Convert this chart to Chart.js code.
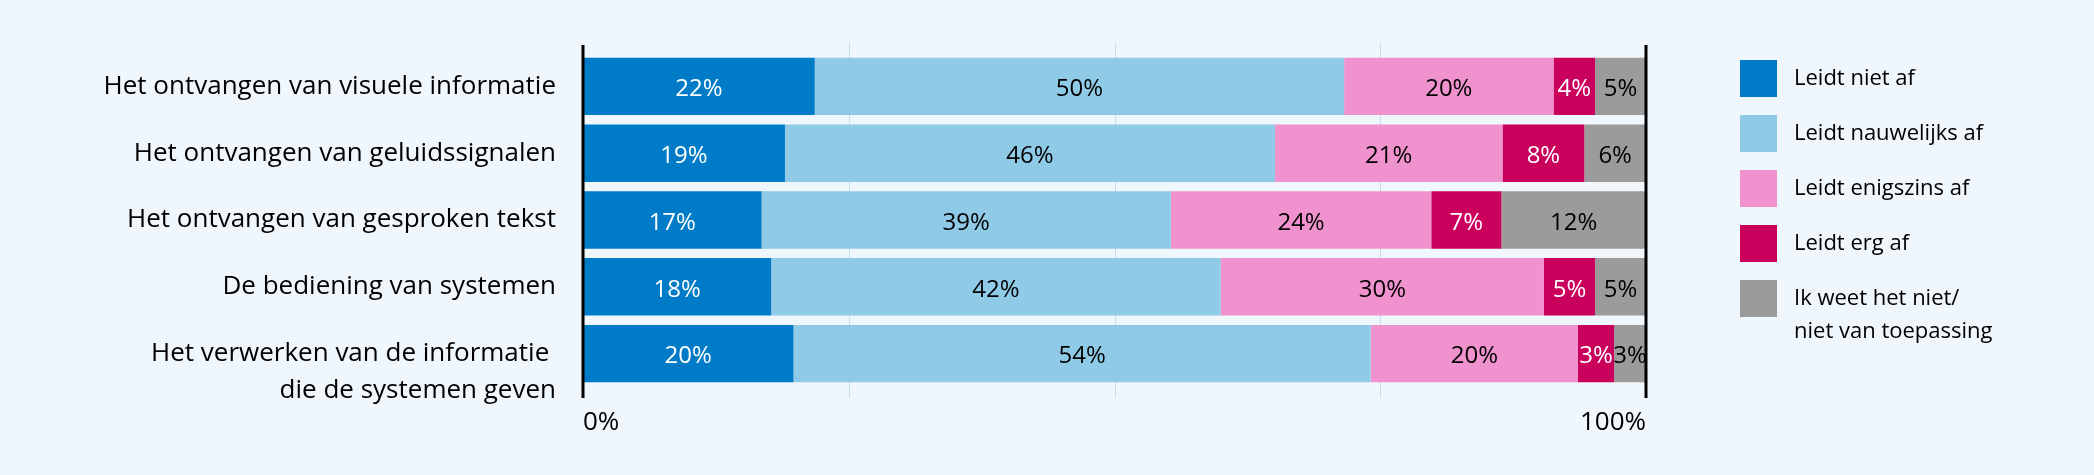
<!DOCTYPE html>
<html lang="nl">
<head>
  <meta charset="UTF-8">
  <title>Afleiding door systemen</title>
  <script src="https://cdn.jsdelivr.net/npm/chart.js"></script>
  <style>
    html, body { margin: 0; padding: 0; background: #eff6fc; }
    #grafiek { position: relative; width: 2094px; height: 475px; }
  </style>
</head>
<body>
  <div id="grafiek"><canvas id="canvas"></canvas></div>

  <script>
    const categorieen = [
      'Het ontvangen van visuele informatie',
      'Het ontvangen van geluidssignalen',
      'Het ontvangen van gesproken tekst',
      'De bediening van systemen',
      'Het verwerken van de informatie \ndie de systemen geven'
    ];

    const reeksen = [
      'Leidt niet af',
      'Leidt nauwelijks af',
      'Leidt enigszins af',
      'Leidt erg af',
      'Ik weet het niet/\nniet van toepassing'
    ];

    // lengte van de balkdelen zoals getekend (in %)
    const leidtNietAf        = [21.8, 19.0, 16.8, 17.7, 19.8];
    const leidtNauwelijksAf  = [49.8, 46.1, 38.5, 42.3, 54.3];
    const leidtEnigszinsAf   = [19.7, 21.4, 24.5, 30.4, 19.5];
    const leidtErgAf         = [3.9, 7.7, 6.6, 4.8, 3.4];
    const weetNiet           = [4.8, 5.8, 13.6, 4.8, 3.0];

    // afgedrukte percentages in de balken
    const pctNietAf        = [22, 19, 17, 18, 20];
    const pctNauwelijksAf  = [50, 46, 39, 42, 54];
    const pctEnigszinsAf   = [20, 21, 24, 30, 20];
    const pctErgAf         = [4, 8, 7, 5, 3];
    const pctWeetNiet      = [5, 6, 12, 5, 3];

    const xTickLabels = ['0%', '', '', '', '100%'];

    const waarden = [leidtNietAf, leidtNauwelijksAf, leidtEnigszinsAf, leidtErgAf, weetNiet];
    const percentages = [pctNietAf, pctNauwelijksAf, pctEnigszinsAf, pctErgAf, pctWeetNiet];
    const kleuren = ['#007bc7', '#8fcae7', '#f092cd', '#ca005d', '#9b9b9b'];
    const tekstKleuren = ['#ffffff', '#000000', '#000000', '#ffffff', '#000000'];

    const FONT = "'Open Sans', 'Noto Sans', sans-serif";
    Chart.defaults.font.family = FONT;
    Chart.defaults.color = '#000';

    const lijnenEnLabels = {
      id: 'lijnenEnLabels',
      beforeDatasetsDraw(chart) {
        const { ctx, chartArea, scales: { x } } = chart;
        ctx.save();
        ctx.strokeStyle = '#c4deee';
        ctx.lineWidth = 1;
        x.ticks.forEach(t => {
          if (t.value <= x.min || t.value >= x.max) return;
          const px = Math.round(x.getPixelForValue(t.value)) + 0.5;
          ctx.beginPath();
          ctx.moveTo(px, chartArea.top - 10);
          ctx.lineTo(px, chartArea.bottom + 11);
          ctx.stroke();
        });
        ctx.restore();
      },
      afterDatasetsDraw(chart) {
        const { ctx, chartArea, scales: { x } } = chart;
        ctx.save();

        // percentages in de balken
        ctx.font = `24px ${FONT}`;
        ctx.textAlign = 'center';
        ctx.textBaseline = 'middle';
        chart.data.datasets.forEach((ds, d) => {
          const meta = chart.getDatasetMeta(d);
          meta.data.forEach((bar, i) => {
            ctx.fillStyle = tekstKleuren[d];
            ctx.fillText(percentages[d][i] + '%', (bar.x + bar.base) / 2, bar.y + 3);
          });
        });

        // zwarte lijnen bij 0% en 100%
        ctx.strokeStyle = '#000';
        ctx.lineWidth = 3;
        [x.min, x.max].forEach(v => {
          const px = x.getPixelForValue(v);
          ctx.beginPath();
          ctx.moveTo(px, chartArea.top - 8);
          ctx.lineTo(px, chartArea.bottom + 11);
          ctx.stroke();
        });
        ctx.restore();
      },
      afterDraw(chart) {
        const { ctx } = chart;
        ctx.save();
        ctx.font = `22px ${FONT}`;
        ctx.textAlign = 'left';
        ctx.textBaseline = 'middle';
        chart.data.datasets.forEach((ds, d) => {
          const midden = 78 + d * 55;
          ctx.fillStyle = ds.backgroundColor;
          ctx.fillRect(1740, midden - 18, 37, 37);
          ctx.fillStyle = '#000';
          ds.label.split('\n').forEach((regel, r) => {
            ctx.fillText(regel, 1794, midden + 1 + r * 33);
          });
        });
        ctx.restore();
      }
    };

    new Chart(document.getElementById('canvas'), {
      type: 'bar',
      data: {
        labels: categorieen,
        datasets: reeksen.map((naam, d) => ({
          label: naam,
          data: waarden[d],
          backgroundColor: kleuren[d],
          borderWidth: 0,
          barPercentage: 0.86,
          categoryPercentage: 1
        }))
      },
      options: {
        indexAxis: 'y',
        responsive: true,
        maintainAspectRatio: false,
        animation: false,
        layout: { padding: { left: 0, right: 448, top: 53, bottom: 0 } },
        plugins: {
          legend: { display: false },
          tooltip: { enabled: false }
        },
        scales: {
          x: {
            stacked: true,
            min: 0,
            max: 100,
            grid: { display: false, drawTicks: false },
            border: { display: false },
            ticks: {
              stepSize: 25,
              autoSkip: false,
              maxRotation: 0,
              align: 'inner',
              padding: 20,
              font: { size: 26 },
              callback: (v, i) => xTickLabels[i]
            },
            afterFit(scale) {
              scale.height = 88;
              scale.paddingLeft = 0;
              scale.paddingRight = 0;
            }
          },
          y: {
            stacked: true,
            grid: { display: false, drawTicks: false },
            border: { display: false },
            ticks: {
              autoSkip: false,
              padding: 27,
              font: { size: 26, lineHeight: 1.42 },
              callback: function (v) {
                const label = this.getLabelForValue(v);
                // eerste regel op het midden van de balk, tweede eronder
                return label.includes('\n') ? [''].concat(label.split('\n')) : label;
              }
            },
            afterFit(scale) {
              scale.width = 583;
              scale.paddingTop = 0;
              scale.paddingBottom = 0;
            }
          }
        }
      },
      plugins: [lijnenEnLabels]
    });
  </script>
</body>
</html>
